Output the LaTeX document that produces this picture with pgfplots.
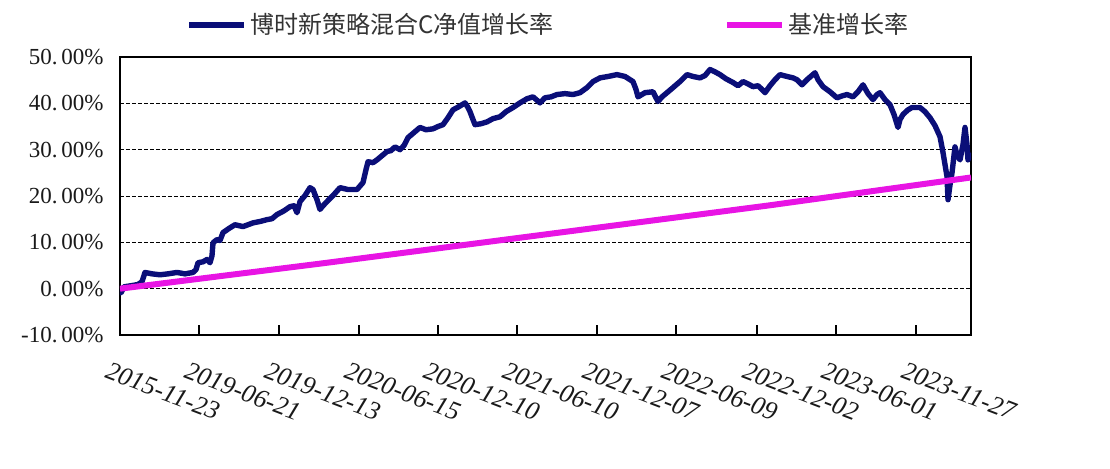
\documentclass[border=0pt]{standalone}
\usepackage{fontspec}
\setmainfont{Liberation Serif}
\newfontfamily\cjk{Noto Sans CJK SC}
\usepackage{pgfplots}
\pgfplotsset{compat=1.18}
\definecolor{navyline}{RGB}{10,14,120}
\definecolor{pinkline}{RGB}{232,20,228}
\begin{document}
\begin{tikzpicture}
\useasboundingbox (0,0) rectangle (555pt,234pt);
\begin{axis}[
  at={(60pt,66.5pt)}, anchor=south west,
  scale only axis, width=425.5pt, height=139pt,
  xmin=0, xmax=851, ymin=-10, ymax=50,
  axis line style={black, line width=1.2pt},
  xtick={0,79,159,239,318,397,477,556,637,716,796},
  xticklabels={2015-11-23,2019-06-21,2019-12-13,2020-06-15,2020-12-10,2021-06-10,2021-12-07,2022-06-09,2022-12-02,2023-06-01,2023-11-27},
  xtick pos=bottom, tick align=inside, major tick length=5pt,
  xtick style={black, line width=0.8pt},
  ytick={-10,0,10,20,30,40,50},
  yticklabels={-10.\,00\%,0.\,00\%,10.\,00\%,20.\,00\%,30.\,00\%,40.\,00\%,50.\,00\%},
  ytick style={draw=none},
  ymajorgrids,
  grid style={black, line width=0.5pt, dash pattern=on 2pt off 1pt},
  yticklabel style={font=\fontsize{11.5}{13}\selectfont, text=black!90, inner sep=0pt, xshift=-8pt},
  xticklabel style={font=\fontsize{13}{15}\selectfont\itshape, text=black!90, inner sep=0pt, xshift=-5pt, yshift=-13pt, rotate=-21, anchor=north west},
  legend style={at={(0.5,1)}, anchor=center, yshift=16pt, xshift=1.75pt, draw=none, fill=none,
    font=\cjk\fontsize{12}{14}\selectfont, text=black!80,
    nodes={inner sep=1.5pt},
    /tikz/every even column/.append style={column sep=84pt}},
  legend columns=2,
  legend image code/.code={\draw[#1] (0pt,0pt) -- (27.5pt,0pt);},
]
\addplot[navyline, line width=2.7pt, line join=round] coordinates {
(0,-0.2) (1,-0.9) (4,0.4) (10,0.6) (18,0.9) (22,1.5) (25,3.5) (32,3.2) (40,3.0) (48,3.2)
(57,3.5) (65,3.2) (73,3.5) (76,4.1) (78,5.6) (83,5.8) (87,6.3) (90,5.6) (92,7.1) (93,9.9)
(97,10.6) (100,10.4) (103,12.1) (109,13.0) (115,13.8) (123,13.4) (128,13.8) (133,14.2) (140,14.5) (147,14.9)
(152,15.1) (157,16.0) (164,16.8) (170,17.7) (174,17.9) (177,16.4) (180,18.8) (185,20.1) (190,21.8) (193,21.4)
(197,19.2) (200,17.1) (203,17.9) (207,18.8) (213,20.1) (220,21.8) (228,21.4) (237,21.4) (243,22.9) (246,25.7)
(248,27.4) (253,27.2) (257,27.8) (262,28.7) (267,29.6) (271,29.8) (275,30.6) (280,30.0) (284,30.9) (288,32.6)
(294,33.7) (300,34.8) (306,34.3) (313,34.5) (318,35.0) (323,35.4) (328,36.9) (333,38.6) (339,39.3) (345,40.1)
(348,39.1) (350,38.2) (353,36.5) (355,35.4) (361,35.6) (367,36.0) (373,36.7) (380,37.1) (386,38.2) (393,39.1)
(400,40.1) (407,41.0) (413,41.4) (420,40.1) (425,41.2) (431,41.4) (437,41.9) (445,42.1) (453,41.9) (460,42.3)
(467,43.4) (473,44.7) (480,45.5) (488,45.8) (497,46.2) (505,45.8) (513,44.7) (516,43.0) (518,41.4) (525,42.3)
(533,42.5) (536,41.2) (538,40.4) (542,41.4) (547,42.3) (553,43.4) (560,44.7) (567,46.2) (573,45.8) (580,45.5)
(585,46.0) (590,47.3) (595,46.8) (600,46.2) (606,45.3) (613,44.5) (618,43.8) (623,44.7) (628,44.2) (633,43.6)
(638,43.8) (642,43.0) (645,42.3) (650,43.8) (655,45.1) (660,46.2) (667,45.8) (673,45.5) (677,45.1) (682,44.0)
(688,45.3) (695,46.6) (698,45.1) (703,43.6) (710,42.5) (717,41.2) (722,41.6) (727,41.9) (733,41.4) (738,42.5)
(743,44.0) (748,42.1) (753,40.8) (757,41.9) (760,42.3) (765,40.8) (770,39.7) (774,37.6) (778,34.8) (780,36.5)
(783,37.6) (788,38.6) (792,39.1) (800,39.1) (805,38.2) (810,36.9) (815,35.2) (820,32.8) (823,29.4) (825,26.8)
(827,24.2) (828,19.2) (830,22.4) (832,25.0) (835,30.6) (837,28.9) (840,27.8) (843,31.1) (845,34.8) (847,31.1)
(848,27.8) (850,29.4)
};
\addlegendentry{博时新策略混合C净值增长率}
\addplot[pinkline, line width=3pt] coordinates {
(0,0) (200,5.4) (425,11.7) (650,18.0) (851,24.0)
};
\addlegendentry{基准增长率}
\end{axis}
\end{tikzpicture}
\end{document}
